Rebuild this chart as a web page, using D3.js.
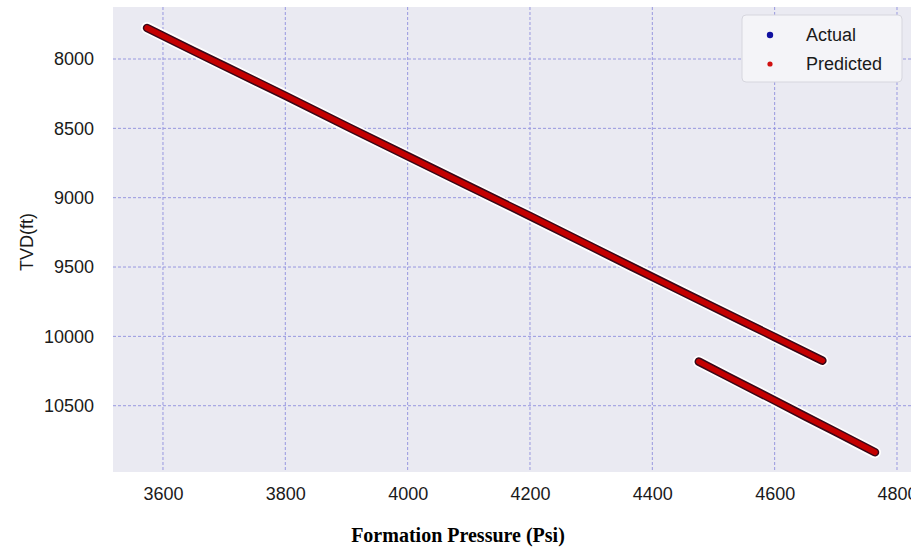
<!DOCTYPE html>
<html>
<head>
<meta charset="utf-8">
<script src="https://cdn.jsdelivr.net/npm/d3@7"></script>
<style>
  html, body { margin: 0; padding: 0; background: #ffffff; }
  svg { display: block; }
</style>
</head>
<body>
<svg id="chart" width="911" height="548"></svg>
<script>
// Formation pressure vs. true vertical depth, two trend segments.
const xTicks = [3600, 3800, 4000, 4200, 4400, 4600, 4800];
const yTicks = [8000, 8500, 9000, 9500, 10000, 10500];

// Upper segment
const pressureUpper = [3574, 3650, 3700, 3800, 3906, 4000, 4100, 4200, 4300, 4366, 4450, 4550, 4600, 4678];
const actualUpper    = [7776, 7942, 8050, 8265, 8498, 8700, 8917, 9133, 9352, 9497, 9680, 9897, 10005, 10175];
const predictedUpper = [7776, 7943, 8050, 8264, 8498, 8701, 8917, 9132, 9352, 9497, 9681, 9897, 10005, 10175];

// Lower segment
const pressureLower  = [4476, 4520, 4600, 4650, 4700, 4764];
const actualLower    = [10182, 10282, 10463, 10577, 10690, 10836];
const predictedLower = [10182, 10283, 10463, 10577, 10689, 10836];

const seriesNames = ["Actual", "Predicted"];

const svg = d3.select("#chart");
const plot = { left: 113, right: 911, top: 7, bottom: 472 };

const x = d3.scaleLinear().domain([3518.3, 4822.9]).range([plot.left, plot.right]);
const y = d3.scaleLinear().domain([7625, 10978]).range([plot.top, plot.bottom]);

// Plot background
svg.append("rect")
  .attr("x", plot.left).attr("y", plot.top)
  .attr("width", plot.right - plot.left).attr("height", plot.bottom - plot.top)
  .attr("fill", "#eaeaf2");

// Grid
const grid = svg.append("g");
grid.selectAll("line.v").data(xTicks).join("line")
  .attr("x1", d => x(d)).attr("x2", d => x(d))
  .attr("y1", plot.top).attr("y2", plot.bottom)
  .attr("stroke", "#9898e0").attr("stroke-width", 1)
  .attr("stroke-dasharray", "3,2");
grid.selectAll("line.h").data(yTicks).join("line")
  .attr("y1", d => y(d)).attr("y2", d => y(d))
  .attr("x1", plot.left).attr("x2", plot.right)
  .attr("stroke", "#9898e0").attr("stroke-width", 1)
  .attr("stroke-dasharray", "3,2");

// Axes (labels only)
const xAxis = svg.append("g")
  .attr("transform", `translate(0,${plot.bottom})`)
  .call(d3.axisBottom(x).tickValues(xTicks).tickSize(0).tickPadding(15).tickFormat(d3.format("d")));
const yAxis = svg.append("g")
  .attr("transform", `translate(${plot.left},0)`)
  .call(d3.axisLeft(y).tickValues(yTicks).tickSize(0).tickPadding(19).tickFormat(d3.format("d")));
[xAxis, yAxis].forEach(a => {
  a.select(".domain").remove();
  a.selectAll("text")
    .attr("font-family", "'Liberation Sans', Arial, sans-serif")
    .attr("font-size", 18)
    .attr("fill", "#1a1a1a");
});

// Axis titles
svg.append("text")
  .attr("transform", "translate(33,242) rotate(-90)")
  .attr("text-anchor", "middle")
  .attr("font-family", "'Liberation Sans', Arial, sans-serif")
  .attr("font-size", 18)
  .attr("fill", "#1a1a1a")
  .text("TVD(ft)");

svg.append("text")
  .attr("x", 458).attr("y", 542)
  .attr("text-anchor", "middle")
  .attr("font-family", "'Liberation Serif', 'Times New Roman', serif")
  .attr("font-weight", "bold")
  .attr("font-size", 20)
  .attr("fill", "#000")
  .text("Formation Pressure (Psi)");

// Dense point trends drawn as continuous bands
const segments = [
  { p: pressureUpper, a: actualUpper, q: predictedUpper },
  { p: pressureLower, a: actualLower, q: predictedLower }
];
const line = d3.line().x(d => x(d[0])).y(d => y(d[1]));
const marks = svg.append("g").attr("stroke-linecap", "round").attr("stroke-linejoin", "round").attr("fill", "none");

segments.forEach(s => {
  const act = s.p.map((v, i) => [v, s.a[i]]);
  const pred = s.p.map((v, i) => [v, s.q[i]]);
  marks.append("path").attr("d", line(act)).attr("stroke", "#ffffff").attr("stroke-width", 12);
  marks.append("path").attr("d", line(act)).attr("stroke", "#3a0818").attr("stroke-width", 8.5);
  marks.append("path").attr("d", line(pred)).attr("stroke", "#c40000").attr("stroke-width", 5.5);
});

// Legend
const legend = svg.append("g");
legend.append("rect")
  .attr("x", 742).attr("y", 15).attr("width", 160).attr("height", 67)
  .attr("rx", 4).attr("ry", 4)
  .attr("fill", "#f4f4f8").attr("stroke", "#d6d6de").attr("stroke-width", 1);
const legendColors = ["#1010a0", "#d01010"];
const legendRadius = [3.2, 2.6];
seriesNames.forEach((name, i) => {
  const cy = 35 + i * 29;
  legend.append("circle").attr("cx", 770).attr("cy", cy).attr("r", legendRadius[i]).attr("fill", legendColors[i]);
  legend.append("text")
    .attr("x", 806).attr("y", cy + 6)
    .attr("font-family", "'Liberation Sans', Arial, sans-serif")
    .attr("font-size", 18)
    .attr("fill", "#1a1a1a")
    .text(name);
});
</script>
</body>
</html>
